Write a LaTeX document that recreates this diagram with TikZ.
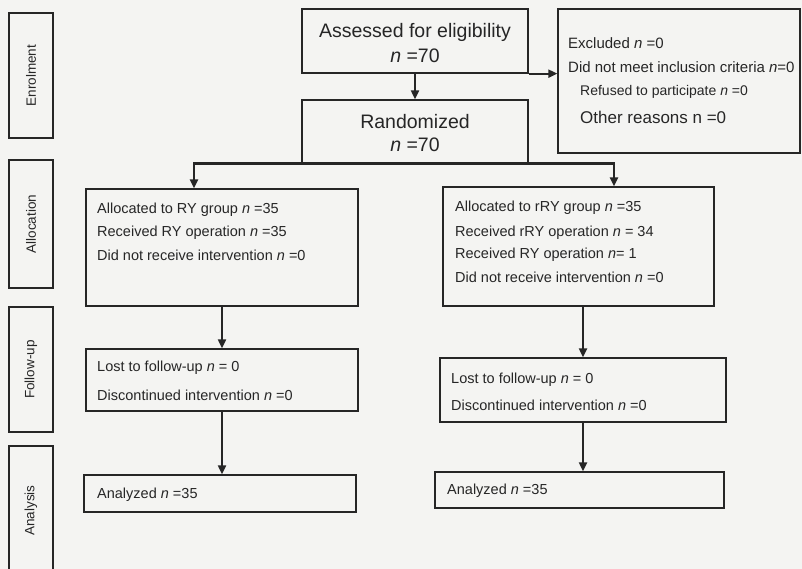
\documentclass[tikz,border=0pt]{standalone}
\usepackage{fontspec}
\setmainfont{Liberation Sans}
\usetikzlibrary{arrows.meta,calc}
\definecolor{bg}{HTML}{F4F4F2}
\definecolor{ink}{HTML}{262626}
\tikzset{
  box/.style={draw=ink, line width=1.3pt, inner sep=0pt},
  side/.style={box},
  sidetxt/.style={rotate=90, text=ink, font=\fontsize{13.5}{16}\selectfont, inner sep=0pt},
  bigtxt/.style={align=center, text=ink, font=\fontsize{19.5}{25}\selectfont, inner sep=0pt},
  txt/.style={anchor=west, text=ink, font=\fontsize{14.5}{17}\selectfont, inner sep=0pt},
  arr/.style={draw=ink, line width=2pt, -{Triangle[length=9pt,width=8pt]}},
}
\begin{document}
\begin{tikzpicture}[x=1pt,y=-1pt]
\fill[bg] (0,0) rectangle (802,569);
\useasboundingbox (0,0) rectangle (802,569);

% side labels
\node[side, minimum width=44, minimum height=125] (enr) at (31,75.5) {};
\node[sidetxt] (enrt) at (enr.center) {Enrolment};
\node[side, minimum width=44, minimum height=128] (alc) at (31,224) {};
\node[sidetxt] (alct) at (alc.center) {Allocation};
\node[side, minimum width=44, minimum height=125] (fol) at (31,369.5) {};
\node[sidetxt] (folt) at (fol.center) {Follow-up};
\node[side, minimum width=44, minimum height=129] (ana) at (31,510.5) {};
\node[sidetxt] (anat) at (ana.center) {Analysis};

% top boxes
\node[box, minimum width=226, minimum height=64] (ae) at (415,41) {};
\node[bigtxt] (aet) at ($(ae.center)+(0,2)$) {Assessed for eligibility\\\textit{n} =70};
\node[box, minimum width=226, minimum height=63] (rnd) at (415,131.5) {};
\node[bigtxt, font=\fontsize{19.5}{23}\selectfont] (rndt) at ($(rnd.center)+(0,2)$) {Randomized\\\textit{n} =70};

\node[box, minimum width=242, minimum height=144] (exc) at (679,81) {};
\node[txt, font=\fontsize{15}{17}\selectfont] (exc1) at (568,43) {Excluded \textit{n} =0};
\node[txt, font=\fontsize{15}{17}\selectfont] (exc2) at (568,67) {Did not meet inclusion criteria \textit{n}=0};
\node[txt, font=\fontsize{14}{17}\selectfont] (exc3) at (580,92) {Refused to participate \textit{n} =0};
\node[txt, font=\fontsize{17}{20}\selectfont] (exc4) at (580,117) {Other reasons n =0};

% allocation
\node[box, minimum width=272, minimum height=117] (la) at (222,247.5) {};
\node[txt] (la1) at (97,210) {Allocated to RY group \textit{n} =35};
\node[txt] (la2) at (97,233) {Received RY operation \textit{n} =35};
\node[txt] (la3) at (97,255) {Did not receive intervention \textit{n} =0};

\node[box, minimum width=271, minimum height=119] (ra) at (578.5,246.5) {};
\node[txt] (ra1) at (455,208) {Allocated to rRY group \textit{n} =35};
\node[txt] (ra2) at (455,233) {Received rRY operation \textit{n} = 34};
\node[txt] (ra3) at (455,255) {Received RY operation \textit{n}= 1};
\node[txt] (ra4) at (455,277) {Did not receive intervention \textit{n} =0};

% follow-up
\node[box, minimum width=272, minimum height=62] (lf) at (222,380) {};
\node[txt] (lf1) at (97,368) {Lost to follow-up \textit{n} = 0};
\node[txt] (lf2) at (97,395) {Discontinued intervention \textit{n} =0};

\node[box, minimum width=286, minimum height=64] (rf) at (583,390) {};
\node[txt] (rf1) at (451,380) {Lost to follow-up \textit{n} = 0};
\node[txt] (rf2) at (451,405) {Discontinued intervention \textit{n} =0};

% analysis
\node[box, minimum width=272, minimum height=37] (lan) at (220,493.5) {};
\node[txt] (lan1) at (97,495) {Analyzed \textit{n} =35};
\node[box, minimum width=289, minimum height=36] (ran) at (579.5,490) {};
\node[txt] (ran1) at (447,491) {Analyzed \textit{n} =35};

% connectors
\coordinate (sl) at (194,163);
\coordinate (sr) at (614,163);
\draw[arr] (ae.south) -- (rnd.north);
\draw[arr] (ae.south east) -- (ae.south east -| exc.west);
\draw[arr, line width=2.3pt] (rnd.south) -| (sl |- la.north);
\draw[arr, line width=2.3pt] (rnd.south) -| (sr |- ra.north);
\draw[arr] (la.south) -- (la.south |- lf.north);
\draw[arr] (ra.south -| rf.north) -- (rf.north);
\draw[arr] (lf.south) -- (lf.south |- lan.north);
\draw[arr] (rf.south) -- (rf.south |- ran.north);
\end{tikzpicture}
\end{document}
